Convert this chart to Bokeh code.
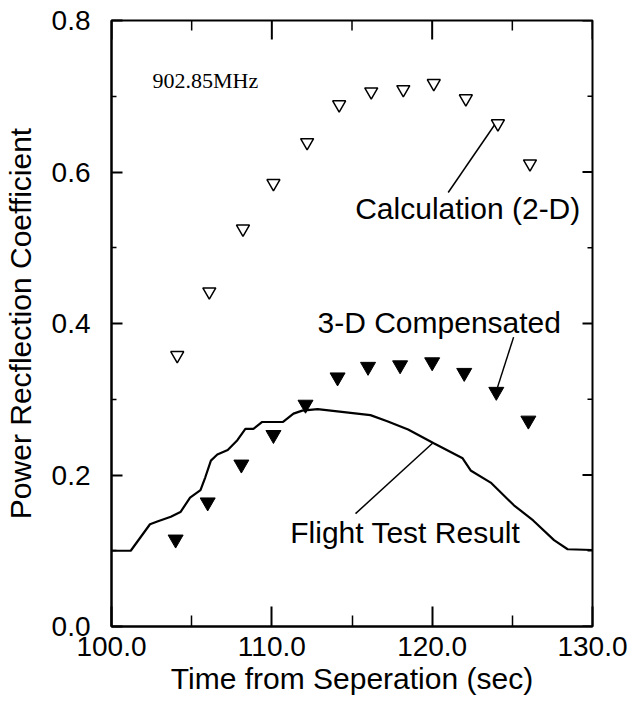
import math
from bokeh.plotting import figure
from bokeh.models import FixedTicker, PrintfTickFormatter, Label, Range1d
from bokeh.embed import file_html
from bokeh.resources import INLINE

# ---- data ----
calc_t = [104.1, 106.1, 108.2, 110.1, 112.2, 114.2, 116.2, 118.2, 120.1, 122.1, 124.1, 126.1]
calc_r = [0.358, 0.442, 0.525, 0.585, 0.639, 0.689, 0.706, 0.709, 0.717, 0.697, 0.664, 0.611]

comp_t = [104.0, 106.0, 108.1, 110.1, 112.1, 114.1, 116.0, 118.0, 120.0, 122.0, 124.0, 126.0]
comp_r = [0.115, 0.164, 0.214, 0.253, 0.293, 0.329, 0.343, 0.345, 0.349, 0.335, 0.310, 0.272]

flight_t = [100.0, 101.2, 102.4, 102.9, 103.7, 104.3, 104.9, 105.55, 105.85, 106.2, 106.6,
            107.25, 107.85, 108.35, 108.85, 109.4, 110.7, 111.35, 111.9, 112.85, 114.5,
            116.15, 117.2, 118.5, 120.1, 121.9, 122.4, 123.65, 125.1, 126.3, 127.6,
            128.45, 130.0]
flight_r = [0.100, 0.100, 0.135, 0.139, 0.145, 0.151, 0.170, 0.180, 0.197, 0.219, 0.227,
            0.233, 0.246, 0.261, 0.261, 0.270, 0.270, 0.281, 0.285, 0.287, 0.283,
            0.279, 0.271, 0.260, 0.242, 0.222, 0.206, 0.190, 0.160, 0.140, 0.114,
            0.102, 0.101]

x_ticks = [100, 110, 120, 130]
x_minor = [105, 115, 125]
y_ticks = [0.0, 0.2, 0.4, 0.6, 0.8]
y_minor = [0.1, 0.3, 0.5, 0.7]
x_lo, x_hi = 100, 130
y_lo, y_hi = 0.0, 0.8

# annotation texts: (text, x, y)
ann_freq = ("902.85MHz", 102.56, 0.721)
ann_calc = ("Calculation (2-D)", 115.2, 0.552)
ann_comp = ("3-D Compensated", 112.85, 0.401)
ann_flight = ("Flight Test Result", 111.15, 0.124)

# leader lines: x0, y0, x1, y1
lead_x0 = [121.0, 125.08, 115.22]
lead_y0 = [0.573, 0.382, 0.149]
lead_x1 = [124.08, 124.08, 120.02]
lead_y1 = [0.668, 0.316, 0.242]

FONT = "Liberation Sans"

p = figure(width=631, height=704, output_backend="svg", toolbar_location=None,
           x_range=Range1d(x_lo, x_hi), y_range=Range1d(y_lo, y_hi),
           min_border_left=111, min_border_right=39, min_border_top=20,
           min_border_bottom=78)
p.background_fill_color = "white"
p.border_fill_color = "white"
p.outline_line_color = "black"
p.outline_line_width = 2
p.xgrid.visible = False
p.ygrid.visible = False

p.xaxis.ticker = FixedTicker(ticks=x_ticks, minor_ticks=x_minor)
p.yaxis.ticker = FixedTicker(ticks=y_ticks, minor_ticks=y_minor)
p.xaxis.formatter = PrintfTickFormatter(format="%.1f")
p.yaxis.formatter = PrintfTickFormatter(format="%.1f")
p.xaxis.axis_label = "Time from Seperation (sec)"
p.yaxis.axis_label = "Power Recflection Coefficient"

p.xaxis.major_tick_in = 20
p.xaxis.major_tick_out = 0
p.xaxis.minor_tick_in = 11
p.xaxis.minor_tick_out = 0
p.xaxis.major_label_standoff = 10
p.xaxis.axis_label_standoff = 3
p.yaxis.major_tick_in = 11
p.yaxis.major_tick_out = 0
p.yaxis.minor_tick_in = 5
p.yaxis.minor_tick_out = 0
p.yaxis.major_label_standoff = 21
p.yaxis.axis_label_standoff = 12
for ax in [p.xaxis, p.yaxis]:
    ax.axis_line_width = 2
    ax.major_tick_line_width = 2
    ax.minor_tick_line_width = 1.5
    ax.axis_line_color = "black"
    ax.major_tick_line_color = "black"
    ax.minor_tick_line_color = "black"
    ax.major_label_text_font = FONT
    ax.major_label_text_font_size = "28px"
    ax.major_label_text_color = "black"
    ax.axis_label_text_font = FONT
    ax.axis_label_text_font_size = "30px"
    ax.axis_label_text_font_style = "normal"
    ax.axis_label_text_color = "black"

# mirrored inward ticks on the top and right edges (anchored a hair inside the
# frame so that the renderer does not cull them at the boundary)
top_y = y_hi - 1e-6 * (y_hi - y_lo)
right_x = x_hi - 1e-6 * (x_hi - x_lo)
tx_major = [min(max(t, x_lo + 1e-6), right_x) for t in x_ticks]
ty_major = [min(max(t, y_lo + 1e-6), top_y) for t in y_ticks]
p.ray(x=tx_major, y=[top_y] * len(x_ticks), length=19, length_units="screen",
      angle=-math.pi / 2, line_color="black", line_width=2)
p.ray(x=x_minor, y=[top_y] * len(x_minor), length=10, length_units="screen",
      angle=-math.pi / 2, line_color="black", line_width=1.5)
p.ray(x=[right_x] * len(y_ticks), y=ty_major, length=10, length_units="screen",
      angle=math.pi, line_color="black", line_width=2)
p.ray(x=[right_x] * len(y_minor), y=y_minor, length=5, length_units="screen",
      angle=math.pi, line_color="black", line_width=1.5)

# leader lines
p.segment(x0=lead_x0, y0=lead_y0, x1=lead_x1, y1=lead_y1, line_color="black", line_width=1.5)

# flight test result
p.line(flight_t, flight_r, line_color="black", line_width=2.2)

# calculation (open inverted triangles)
p.scatter(calc_t, calc_r, marker="inverted_triangle", size=13, fill_color="white",
          line_color="black", line_width=1.5)
# 3-D compensated (filled inverted triangles)
p.scatter(comp_t, comp_r, marker="inverted_triangle", size=15, fill_color="black",
          line_color="black", line_width=1)

for txt, x, y in [ann_calc, ann_comp, ann_flight]:
    p.add_layout(Label(x=x, y=y, text=txt, text_font=FONT, text_font_size="30px",
                       text_color="black", text_baseline="middle", text_align="left"))
p.add_layout(Label(x=ann_freq[1], y=ann_freq[2], text=ann_freq[0], text_font="Liberation Serif",
                   text_font_size="22px", text_color="black", text_baseline="middle",
                   text_align="left"))

open("out.html", "w").write(file_html(p, INLINE))
